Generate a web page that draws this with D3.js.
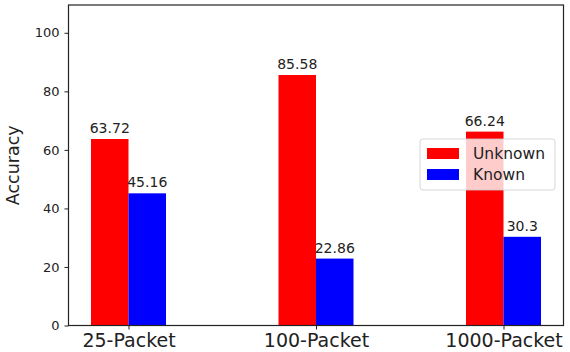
<!DOCTYPE html>
<html>
<head>
<meta charset="utf-8">
<script src="https://cdn.jsdelivr.net/npm/d3@7"></script>
<style>
  html, body { margin: 0; padding: 0; background: #fff; }
  svg { display: block; font-family: "DejaVu Sans", sans-serif; }
</style>
</head>
<body>
<svg id="chart" width="570" height="352"></svg>
<script>
const categories = ["25-Packet", "100-Packet", "1000-Packet"];
const unknownValues = [63.72, 85.58, 66.24];
const knownValues = [45.16, 22.86, 30.3];
const seriesNames = ["Unknown", "Known"];
const seriesColors = ["#ff0000", "#0000ff"];
const yTicks = [0, 20, 40, 60, 80, 100];

(function () {
const svg = d3.select("#chart");
const mLeft = 68.5, mRight = 563.5, mTop = 5, mBottom = 325.5;

const x = d3.scaleLinear().domain([-0.32, 2.32]).range([mLeft, mRight]);
const y = d3.scaleLinear().domain([0, 109.5]).range([mBottom, mTop]);
const barW = 0.2;

const series = [unknownValues, knownValues];
series.forEach((vals, si) => {
  const g = svg.append("g");
  g.selectAll("rect").data(vals).enter().append("rect")
    .attr("x", (d, i) => x(i + (si === 0 ? -barW : 0)))
    .attr("width", x(barW) - x(0))
    .attr("y", d => y(d))
    .attr("height", d => y(0) - y(d))
    .attr("fill", seriesColors[si]);
  g.selectAll("text").data(vals).enter().append("text")
    .attr("x", (d, i) => x(i + (si === 0 ? -barW / 2 : barW / 2)))
    .attr("y", d => y(d) - 6)
    .attr("text-anchor", "middle")
    .attr("font-size", 14)
    .attr("fill", "#222")
    .text(d => d);
});

const yAxis = d3.axisLeft(y).tickValues(yTicks).tickSize(4).tickPadding(5);
const yg = svg.append("g").attr("transform", `translate(${mLeft},0)`).call(yAxis);
yg.select(".domain").remove();
yg.selectAll("text").attr("font-size", 13).attr("fill", "#222").attr("font-family", "DejaVu Sans");
yg.selectAll("line").attr("stroke", "#222");

const xAxis = d3.axisBottom(x).tickValues([0, 1, 2]).tickFormat(i => categories[i]).tickSize(4).tickPadding(4);
const xg = svg.append("g").attr("transform", `translate(0,${mBottom})`).call(xAxis);
xg.select(".domain").remove();
xg.selectAll("text").attr("font-size", 19).attr("fill", "#222").attr("font-family", "DejaVu Sans");
xg.selectAll("line").attr("stroke", "#222");

svg.append("rect").attr("x", mLeft).attr("y", mTop)
  .attr("width", mRight - mLeft).attr("height", mBottom - mTop)
  .attr("fill", "none").attr("stroke", "#222").attr("stroke-width", 1.2);

svg.append("text")
  .attr("transform", `translate(19,${(mTop + mBottom) / 2}) rotate(-90)`)
  .attr("text-anchor", "middle")
  .attr("font-size", 17.5)
  .attr("fill", "#222")
  .text("Accuracy");

const lg = svg.append("g");
lg.append("rect").attr("x", 420).attr("y", 139).attr("width", 135).attr("height", 51)
  .attr("rx", 3).attr("fill", "#fff").attr("fill-opacity", 0.8)
  .attr("stroke", "#ccc").attr("stroke-opacity", 0.8);
seriesNames.forEach((name, i) => {
  lg.append("rect").attr("x", 427).attr("y", 148 + i * 21).attr("width", 32).attr("height", 11)
    .attr("fill", seriesColors[i]);
  lg.append("text").attr("x", 473).attr("y", 159 + i * 21)
    .attr("font-size", 15.5).attr("fill", "#222").text(name);
});
})();
</script>
</body>
</html>
